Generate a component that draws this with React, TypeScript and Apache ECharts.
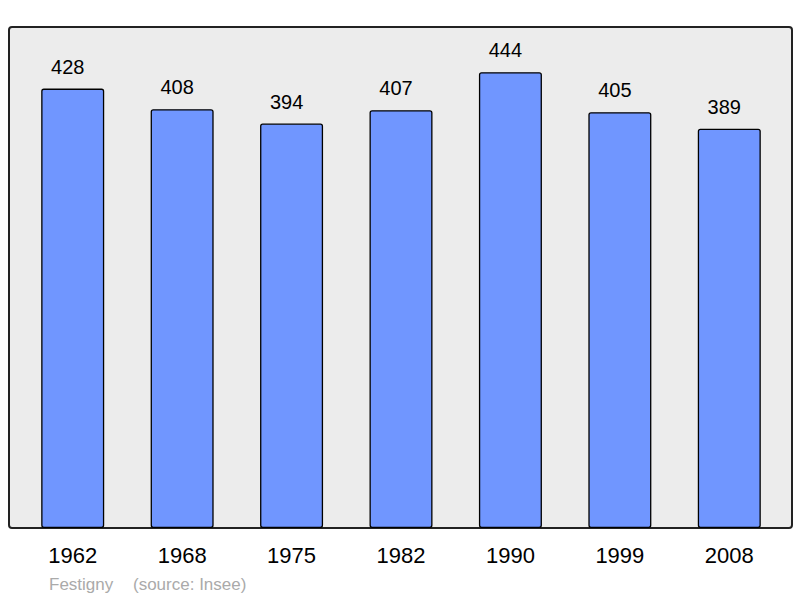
import React, { useEffect, useRef } from "react";
import * as echarts from "echarts";

const years = ["1962", "1968", "1975", "1982", "1990", "1999", "2008"];
const population = [428, 408, 394, 407, 444, 405, 389];
const footerPlace = "Festigny";
const footerSource = "(source: Insee)";

export default function App() {
  const ref = useRef<HTMLDivElement>(null);
  useEffect(() => {
    document.body.style.margin = "0";
    const chart = echarts.init(ref.current!, null, { renderer: "svg" });
    const font = "'Liberation Sans', Arial, sans-serif";
    chart.setOption({
      animation: false,
      backgroundColor: "#ffffff",
      grid: { left: 18, right: 16, top: 27, bottom: 70, containLabel: false },
      graphic: [
        {
          type: "rect",
          z: -10,
          shape: { x: 9, y: 27, width: 783, height: 501, r: 3 },
          style: { fill: "#ececec", stroke: "#222", lineWidth: 2 },
        },
        {
          type: "text",
          left: 49,
          top: 576,
          style: { text: footerPlace, fill: "#aaaaaa", font: "17px " + font },
        },
        {
          type: "text",
          left: 133,
          top: 576,
          style: { text: footerSource, fill: "#aaaaaa", font: "17px " + font },
        },
      ],
      xAxis: {
        type: "category",
        data: years,
        axisLine: { show: false },
        axisTick: { show: false },
        axisLabel: { color: "#000", fontSize: 22, fontFamily: font, margin: 16 },
      },
      yAxis: {
        type: "value",
        min: 0,
        max: 488,
        show: false,
        splitLine: { show: false },
      },
      series: [
        {
          type: "bar",
          data: population,
          barWidth: 63,
          itemStyle: { color: "#7096ff", borderColor: "#000", borderWidth: 1.3, borderRadius: 2 },
          label: {
            show: true,
            position: "top",
            distance: 12,
            offset: [-5, 0],
            color: "#000",
            fontSize: 20,
            fontFamily: font,
          },
        },
      ],
    });
    return () => chart.dispose();
  }, []);
  return <div ref={ref} style={{ width: 800, height: 598 }} />;
}
